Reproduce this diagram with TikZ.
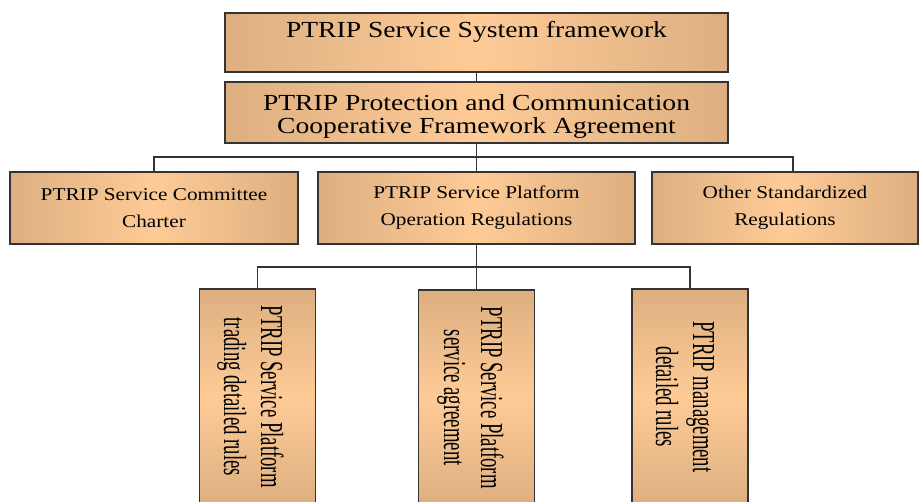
\documentclass[tikz,border=0pt]{standalone}
\usepackage{fontspec}
\usepackage{tikz}
\usepackage{xcolor}
\usetikzlibrary{positioning, calc}
\setmainfont{Liberation Serif}
\newfontfamily\wideserif[FakeStretch=1.2]{Liberation Serif}
\newfontfamily\midserif[FakeStretch=1.18]{Liberation Serif}
\newfontfamily\narrowserif[FakeStretch=0.585]{Liberation Serif}
\definecolor{boxEdge}{HTML}{DDAF80}
\definecolor{boxMid} {HTML}{FECB97}
\definecolor{lineGray}{HTML}{333333}
\tikzset{
  tanbox/.style={draw=lineGray, line width=1.6pt, inner sep=0pt, align=center,
    left color=boxEdge, right color=boxEdge, middle color=boxMid},
  tallbox/.style={draw=lineGray, line width=1.6pt, inner sep=0pt,
    rotate=-90, anchor=west, minimum width=216pt, minimum height=116pt,
    top color=boxEdge, bottom color=boxEdge, middle color=boxMid},
  talltext/.style={rotate=-90, inner sep=0pt, align=center,
    font=\narrowserif\fontsize{32}{37}\selectfont},
  link/.style={draw=lineGray, line width=1.3pt},
}

\begin{document}
\begin{tikzpicture}[x=1pt, y=-1pt]
  \clip (0,0) rectangle (920,501);
  \node[tanbox, minimum width=503pt, minimum height=59pt, text height=16pt, text depth=26pt,
        font=\wideserif\fontsize{23}{23}\selectfont] (frame) at (476.5,42.5)
        {PTRIP Service System framework};
  \node[tanbox, minimum width=503pt, minimum height=61pt] (pact) at (476.5,112.5) {};
  \node[align=center, inner sep=0pt, font=\wideserif\fontsize{23}{23}\selectfont]
        (pactText) at ([yshift=-4pt]pact.center)
        {PTRIP Protection and Communication\\Cooperative Framework Agreement};
  % second level
  \node[tanbox, minimum width=288pt, minimum height=72pt,
        font=\midserif\fontsize{18}{27}\selectfont] (charter) at (154,208)
        {PTRIP Service Committee\\Charter};
  \node[tanbox, minimum width=317pt, minimum height=72pt,
        font=\midserif\fontsize{18}{27}\selectfont] (regs) at (476.5,208)
        {PTRIP Service Platform\\Operation Regulations};
  \node[tanbox, minimum width=266pt, minimum height=72pt,
        font=\midserif\fontsize{18}{27}\selectfont] (other) at (785,208)
        {Other Standardized\\Regulations};
  % third level, set on end
  \node[tallbox] (trading) at (257.5,288) {};
  \node[tallbox] (agreement) at (476.5,289) {};
  \node[tallbox] (manage) at (690,288) {};
  \node[talltext] (tradingText) at ([xshift=-7pt]trading.center) {PTRIP Service Platform\\trading detailed rules};
  \node[talltext] (agreementText) at ([xshift=-6pt]agreement.center) {PTRIP Service Platform\\service agreement};
  \node[talltext] (manageText) at ([xshift=-5pt]manage.center) {PTRIP management\\detailed rules};

  \coordinate (busA) at (476.5,157);
  \coordinate (busB) at (476.5,267);
  \draw[link] (frame.south) -- (pact.north);
  \draw[link] (pact.south) -- (busA) -- (regs.north);
  \draw[link] (charter.north) |- (busA) -| ([xshift=8pt]other.north);
  \draw[link] (regs.south) -- (busB) -- (agreement.west);
  \draw[link] (trading.west) |- (busB) -| (manage.west);
\end{tikzpicture}
\end{document}
